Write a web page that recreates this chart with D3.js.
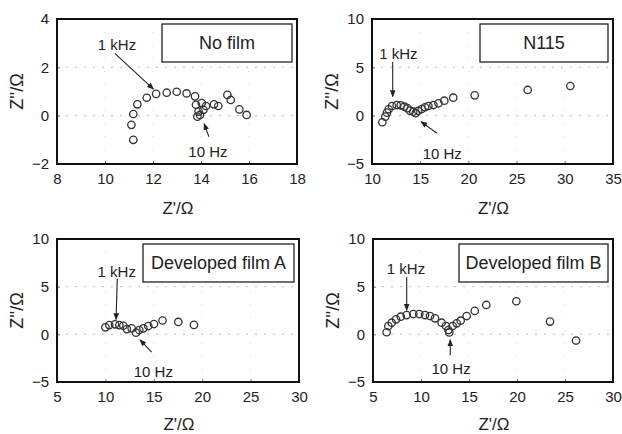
<!DOCTYPE html>
<html>
<head>
<meta charset="utf-8">
<script src="https://cdn.jsdelivr.net/npm/d3@7"></script>
<style>
  html, body { margin: 0; padding: 0; background: #fff; }
  svg { display: block; font-family: "Liberation Sans", Arial, sans-serif; }
</style>
</head>
<body>
<svg id="chart" width="622" height="434"></svg>
<script>
// Nyquist plots: real part Z' vs imaginary part Z'' (Ω)

const panelTitles = ["No film", "N115", "Developed film A", "Developed film B"];

const noFilmRe = [11.18, 11.10, 11.18, 11.35, 11.74, 12.13, 12.57, 12.99, 13.40, 13.75, 13.79, 14.03, 14.21, 14.54, 14.72, 14.10, 13.90, 13.96, 13.85, 15.10, 15.24, 15.60, 15.90];
const noFilmIm = [-1.00, -0.38, 0.07, 0.47, 0.74, 0.90, 0.95, 0.99, 0.92, 0.80, 0.45, 0.52, 0.40, 0.47, 0.40, 0.24, 0.17, 0.03, -0.04, 0.86, 0.65, 0.26, 0.03];

const n115Re = [11.07, 11.38, 11.55, 11.73, 12.08, 12.56, 12.98, 13.35, 13.67, 13.94, 14.28, 14.53, 14.80, 15.16, 15.50, 15.85, 16.37, 16.90, 17.50, 18.43, 20.65, 26.15, 30.57];
const n115Im = [-0.68, -0.10, 0.31, 0.66, 1.00, 1.10, 1.07, 0.93, 0.77, 0.52, 0.41, 0.25, 0.49, 0.69, 0.87, 1.00, 1.10, 1.28, 1.55, 1.86, 2.10, 2.66, 3.07];

const filmARe = [10.00, 10.40, 10.99, 11.44, 11.85, 12.22, 12.71, 13.16, 13.50, 13.92, 14.43, 15.02, 15.90, 17.53, 19.15];
const filmAIm = [0.73, 0.97, 1.05, 0.97, 0.90, 0.55, 0.63, 0.17, 0.45, 0.63, 0.87, 1.08, 1.45, 1.30, 0.99];

const filmBRe = [6.42, 6.60, 6.95, 7.40, 7.89, 8.51, 9.20, 9.82, 10.42, 10.94, 11.46, 12.15, 12.60, 12.85, 12.95, 13.30, 13.72, 14.13, 14.76, 15.60, 16.80, 19.93, 23.44, 26.15];
const filmBIm = [0.22, 0.87, 1.22, 1.57, 1.85, 2.02, 2.13, 2.13, 2.02, 1.92, 1.68, 1.22, 0.87, 0.45, 0.20, 0.87, 1.15, 1.43, 1.92, 2.46, 3.08, 3.47, 1.34, -0.65];

// axis tick values per panel
const xTicks1 = [8, 10, 12, 14, 16, 18];
const yTicks1 = [-2, 0, 2, 4];
const xTicks2 = [10, 15, 20, 25, 30, 35];
const yTicks2 = [-5, 0, 5, 10];
const xTicks3 = [5, 10, 15, 20, 25, 30];
const yTicks3 = [-5, 0, 5, 10];
const xTicks4 = [5, 10, 15, 20, 25, 30];
const yTicks4 = [-5, 0, 5, 10];

// frequency callouts: label position, arrow tail, arrow head (data units)
const kHzNotes = [
  { text: "1 kHz", at: [10.5, 2.92], from: [10.42, 2.57], to: [12.02, 1.10] },
  { text: "1 kHz", at: [12.73, 6.45], from: [12.15, 5.59], to: [12.15, 1.97] },
  { text: "1 kHz", at: [11.17, 6.61], from: [11.23, 5.83], to: [11.10, 1.55] },
  { text: "1 kHz", at: [8.44, 6.88], from: [8.51, 6.01], to: [8.51, 2.52] }
];
const hzNotes = [
  { text: "10 Hz", at: [14.29, -1.5], from: [14.33, -0.87], to: [14.13, -0.33] },
  { text: "10 Hz", at: [17.29, -3.99], from: [16.74, -1.82], to: [15.08, -0.62] },
  { text: "10 Hz", at: [14.95, -3.88], from: [14.78, -1.86], to: [13.57, -0.57] },
  { text: "10 Hz", at: [13.13, -3.61], from: [13.05, -2.2], to: [13.05, -0.57] }
];

// layout of the four plot frames and their title boxes (pixels)
const frames = [
  { left: 57, right: 297, top: 19, bottom: 164, boxW: 130 },
  { left: 372, right: 613, top: 19, bottom: 164, boxW: 128 },
  { left: 57, right: 299, top: 239, bottom: 382, boxW: 151 },
  { left: 373, right: 613, top: 239, bottom: 382, boxW: 149 }
];

const panels = [
  { re: noFilmRe, im: noFilmIm, xt: xTicks1, yt: yTicks1 },
  { re: n115Re, im: n115Im, xt: xTicks2, yt: yTicks2 },
  { re: filmARe, im: filmAIm, xt: xTicks3, yt: yTicks3 },
  { re: filmBRe, im: filmBIm, xt: xTicks4, yt: yTicks4 }
];

const svg = d3.select("#chart");

const defs = svg.append("defs");
defs.append("marker")
  .attr("id", "head")
  .attr("viewBox", "0 0 10 10")
  .attr("refX", 9).attr("refY", 5)
  .attr("markerWidth", 7).attr("markerHeight", 7)
  .attr("markerUnits", "userSpaceOnUse")
  .attr("orient", "auto")
  .append("path")
  .attr("d", "M0,1 L10,5 L0,9 Z")
  .attr("fill", "#222");

panels.forEach((p, i) => {
  const f = frames[i];
  const x = d3.scaleLinear()
    .domain([p.xt[0], p.xt[p.xt.length - 1]])
    .range([f.left, f.right]);
  const y = d3.scaleLinear()
    .domain([p.yt[0], p.yt[p.yt.length - 1]])
    .range([f.bottom, f.top]);

  const g = svg.append("g");

  // faint dotted grid
  g.append("g").selectAll("line.gy")
    .data(p.yt.slice(1, -1)).join("line")
    .attr("x1", f.left).attr("x2", f.right)
    .attr("y1", d => y(d)).attr("y2", d => y(d))
    .attr("stroke", "#b8b8b8").attr("stroke-width", 1)
    .attr("stroke-dasharray", "2,7");
  g.append("g").selectAll("line.gx")
    .data(p.xt.slice(1, -1)).join("line")
    .attr("x1", d => x(d)).attr("x2", d => x(d))
    .attr("y1", f.top).attr("y2", f.bottom)
    .attr("stroke", "#d4d4d4").attr("stroke-width", 1)
    .attr("stroke-dasharray", "1,12");

  // axes
  const xAxis = d3.axisBottom(x).tickValues(p.xt).tickSize(-3).tickPadding(9)
    .tickFormat(d3.format("d"));
  const yAxis = d3.axisLeft(y).tickValues(p.yt).tickSize(-3).tickPadding(8)
    .tickFormat(d => d < 0 ? "\u2212" + Math.abs(d) : String(d));

  const gx = g.append("g").attr("transform", `translate(0,${f.bottom})`).call(xAxis);
  const gy = g.append("g").attr("transform", `translate(${f.left},0)`).call(yAxis);
  [gx, gy].forEach(a => {
    a.select(".domain").remove();
    a.selectAll(".tick line").attr("stroke", "#777");
    a.selectAll(".tick text")
      .attr("fill", "#222")
      .style("font-size", "15px")
      .style("font-family", "'Liberation Sans', Arial, sans-serif");
  });

  // frame
  g.append("rect")
    .attr("x", f.left).attr("y", f.top)
    .attr("width", f.right - f.left).attr("height", f.bottom - f.top)
    .attr("fill", "none").attr("stroke", "#111").attr("stroke-width", 2);

  // axis titles
  g.append("text")
    .attr("x", (f.left + f.right) / 2 + 1)
    .attr("y", Math.min(f.bottom + 50, 430))
    .attr("text-anchor", "middle")
    .attr("fill", "#222")
    .style("font-size", "17px")
    .text("Z'/\u03A9");
  g.append("text")
    .attr("transform", `translate(${f.left - 34},${(f.top + f.bottom) / 2}) rotate(-90)`)
    .attr("text-anchor", "middle")
    .attr("fill", "#222")
    .style("font-size", "18px")
    .text("Z''/\u03A9");

  // title box
  const bx = f.right - 5 - f.boxW;
  const by = f.top + 5;
  g.append("rect")
    .attr("x", bx).attr("y", by)
    .attr("width", f.boxW).attr("height", 38)
    .attr("fill", "#fff").attr("stroke", "#222").attr("stroke-width", 1.3);
  g.append("text")
    .attr("x", bx + f.boxW / 2).attr("y", by + 19)
    .attr("dy", "0.35em")
    .attr("text-anchor", "middle")
    .attr("fill", "#222")
    .style("font-size", "18px")
    .text(panelTitles[i]);

  // data points
  const pts = p.re.map((v, k) => [v, p.im[k]]);
  g.append("g").selectAll("circle")
    .data(pts).join("circle")
    .attr("cx", d => x(d[0]))
    .attr("cy", d => y(d[1]))
    .attr("r", 3.7)
    .attr("fill", "none")
    .attr("stroke", "#333")
    .attr("stroke-width", 1.3);

  // frequency callouts
  [kHzNotes[i], hzNotes[i]].forEach(n => {
    g.append("line")
      .attr("x1", x(n.from[0])).attr("y1", y(n.from[1]))
      .attr("x2", x(n.to[0])).attr("y2", y(n.to[1]))
      .attr("stroke", "#222").attr("stroke-width", 1.1)
      .attr("marker-end", "url(#head)");
    g.append("text")
      .attr("x", x(n.at[0])).attr("y", y(n.at[1]))
      .attr("dy", "0.35em")
      .attr("text-anchor", "middle")
      .attr("fill", "#222")
      .style("font-size", "15px")
      .text(n.text);
  });
});
</script>
</body>
</html>
